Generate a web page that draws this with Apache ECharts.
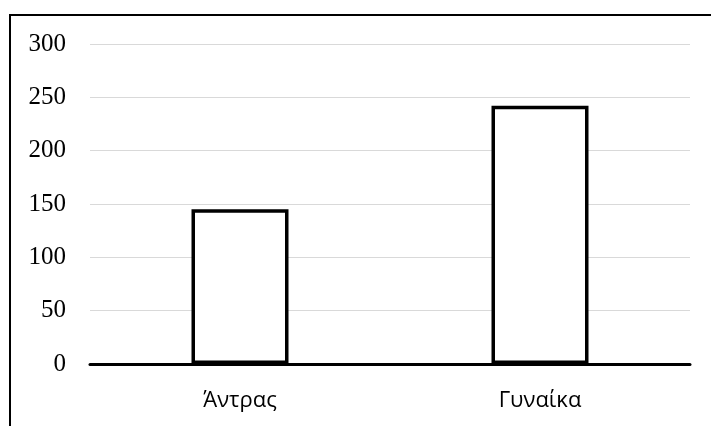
<!DOCTYPE html>
<html>
<head>
<meta charset="utf-8">
<script src="https://cdn.jsdelivr.net/npm/echarts@6/dist/echarts.min.js"></script>
<style>
  html, body { margin: 0; padding: 0; background: #fff; }
  #chart { width: 711px; height: 426px; }
</style>
</head>
<body>
<div id="chart"></div>
<script>
// Respondents by sex
const categories = ['Άντρας', 'Γυναίκα'];
const counts = [145, 242];
const yMin = 0;
const yMax = 300;
const yStep = 50;

const chart = echarts.init(document.getElementById('chart'), null, { renderer: 'canvas' });

chart.setOption({
  animation: false,
  backgroundColor: '#ffffff',
  graphic: [{
    type: 'rect',
    shape: { x: 10, y: 15, width: 760, height: 500 },
    style: { fill: 'none', stroke: '#000', lineWidth: 2 },
    silent: true,
    z: 100
  }],
  grid: { left: 90, right: 21, top: 44, bottom: 62, containLabel: false },
  xAxis: {
    type: 'category',
    data: categories,
    axisLine: { show: true, lineStyle: { color: '#000', width: 3 } },
    axisTick: { show: false },
    axisLabel: {
      color: '#000',
      fontFamily: 'Open Sans',
      fontSize: 22,
      margin: 26
    }
  },
  yAxis: {
    type: 'value',
    min: yMin,
    max: yMax,
    interval: yStep,
    axisLine: { show: false },
    axisTick: { show: false },
    splitLine: { lineStyle: { color: '#d9d9d9', width: 1 } },
    axisLabel: {
      color: '#000',
      fontFamily: 'Liberation Serif',
      fontSize: 25,
      margin: 24
    }
  },
  series: [{
    type: 'bar',
    data: counts,
    barWidth: 97,
    itemStyle: { color: '#ffffff', borderColor: '#000', borderWidth: 3.5 }
  }]
});
</script>
</body>
</html>
